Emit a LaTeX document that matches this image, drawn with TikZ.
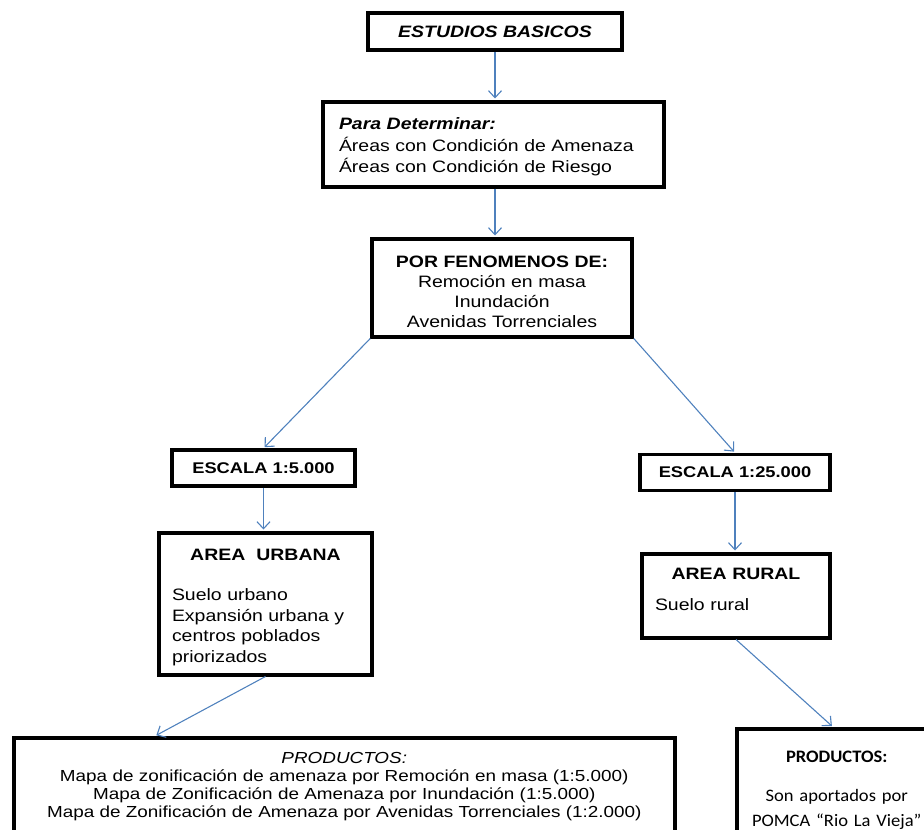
\documentclass[tikz,border=0pt]{standalone}
\usepackage{fontspec}
\setmainfont{Liberation Sans}[FakeStretch=1.18]
\newfontfamily\calfont{Carlito}[FakeStretch=1.06]
\usepackage{xcolor}
\usepackage{tikz}
\usetikzlibrary{arrows.meta,positioning,calc}
\definecolor{arrblue}{RGB}{79,129,189}

\begin{document}
\begin{tikzpicture}[
    x=1pt, y=-1pt,
    box/.style={rectangle, draw=black, line width=3.5pt, fill=white, inner sep=0pt, align=center, font=\fontsize{16.5}{21}\selectfont},
    topbox/.style={box, anchor=north, text height=12pt},
    escbox/.style={box, minimum height=36pt, font=\bfseries\fontsize{15.5}{19}\selectfont},
    prodbox/.style={box, anchor=north west, text height=12pt, text depth=110pt},
    arr/.style={-{Straight Barb[length=7pt, width=13pt]}, draw=arrblue, line width=1.1pt, shorten >=1.5pt}
]
    \useasboundingbox (0,0) rectangle (924,830);

    \node [box, minimum width=254pt, minimum height=37pt] (basic) at (495,31.5) {\textbf{\textit{ESTUDIOS BASICOS}}};
    \node [topbox, minimum width=341pt, text width=309pt, align=left, inner ysep=16pt, text depth=41pt, font=\fontsize{16.5}{21.5}\selectfont] (determ) at (493.5,100)
        {\textbf{\textit{Para Determinar:}}\\Áreas con Condición de Amenaza\\Áreas con Condición de Riesgo};
    \node [topbox, minimum width=260pt, text width=240pt, inner ysep=17pt, text depth=52pt, font=\fontsize{16.5}{20}\selectfont] (fenom) at (502,237)
        {\textbf{POR FENOMENOS DE:}\\Remoción en masa\\Inundación\\Avenidas Torrenciales};

    \node [escbox, minimum width=183pt] (esc5) at (263.5,468) {ESCALA 1:5.000};
    \node [escbox, minimum width=190pt] (esc25) at (735,472.5) {ESCALA 1:25.000};

    \node [topbox, minimum width=213pt, text width=187pt, align=left, inner ysep=16pt, text depth=98pt, font=\fontsize{16.5}{20.7}\selectfont] (urbana) at (265.5,531)
        {{\centering\bfseries AREA \ URBANA\par}\vspace{19pt}Suelo urbano\\Expansión urbana y\\centros poblados\\priorizados};
    \node [topbox, minimum width=188pt, text width=162pt, align=left, inner ysep=14pt, text depth=44pt] (rural) at (736,552)
        {{\centering\bfseries AREA RURAL\par}\vspace{10pt}Suelo rural};

    \node [prodbox, text width=661pt, inner ysep=14pt, font=\fontsize{16}{18}\selectfont] (prod1) at (12,736)
        {\textit{PRODUCTOS:}\\Mapa de zonificación de amenaza por Remoción en masa (1:5.000)\\Mapa de Zonificación de Amenaza  por Inundación (1:5.000)\\Mapa de Zonificación de Amenaza por Avenidas Torrenciales (1:2.000)};
    \node [prodbox, text width=200pt, inner ysep=22pt, font=\calfont\fontsize{17.5}{25}\selectfont] (prod2) at (735,727)
        {\textbf{PRODUCTOS:}\\[14pt]Son aportados por\\POMCA “Rio La Vieja”};

    \draw [arr] (basic.south) -- (basic.south |- determ.north);
    \draw [arr] (basic.south |- determ.south) -- (basic.south |- fenom.north);
    \draw [arr] (fenom.south west) -- (esc5.north);
    \draw [arr] (fenom.south east) -- (esc25.north);
    \draw [arr] (esc5.south) -- (esc5.south |- urbana.north);
    \draw [arr] (esc25.south) -- (esc25.south |- rural.north);
    \draw [arr] (urbana.south) -- ([xshift=143pt]prod1.north west);
    \draw [arr] (rural.south) -- ([xshift=98pt]prod2.north west);
\end{tikzpicture}
\end{document}
